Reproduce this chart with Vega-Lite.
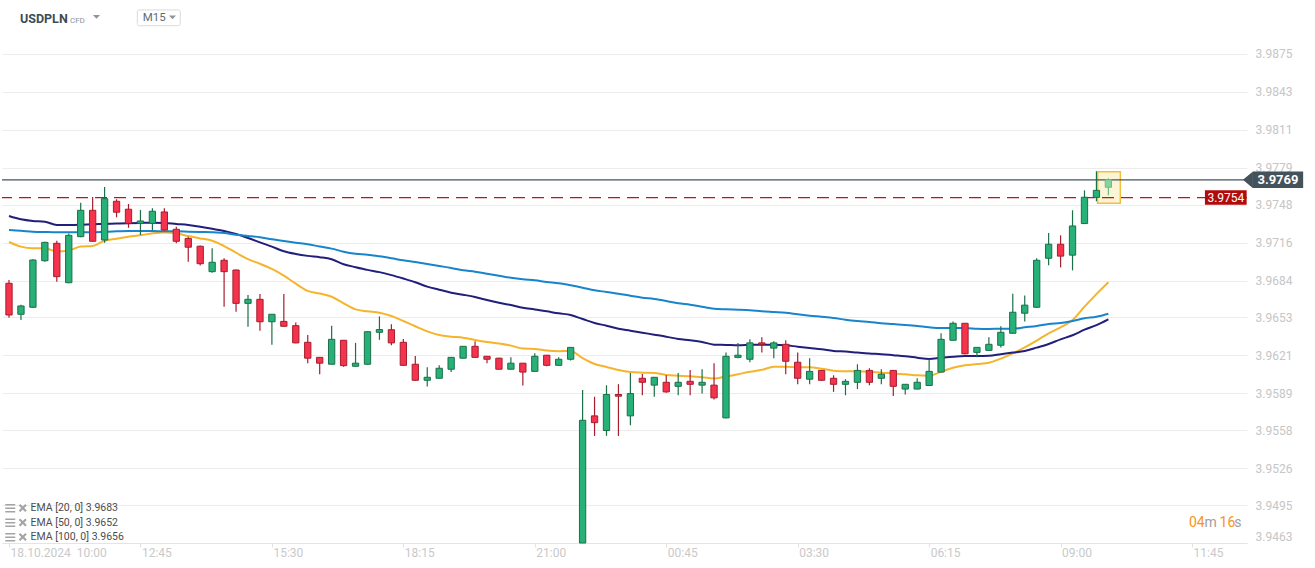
{
"$schema": "https://vega.github.io/schema/vega-lite/v6.json",
"width": 1245, "height": 513,
"autosize": {"type": "none"},
"padding": {"left": 2, "top": 30, "right": 68, "bottom": 25},
"background": "white",
"config": {"font": "Roboto", "view": {"stroke": null}},
"datasets": {
"c": [
{"i":0,"o":3.96818,"h":3.96846,"l":3.96528,"c":3.96551},
{"i":1,"o":3.96557,"h":3.96638,"l":3.96509,"c":3.96627},
{"i":2,"o":3.96616,"h":3.97020,"l":3.96610,"c":3.97014},
{"i":3,"o":3.97008,"h":3.97168,"l":3.97000,"c":3.97163},
{"i":4,"o":3.97155,"h":3.97177,"l":3.96831,"c":3.96874},
{"i":5,"o":3.96823,"h":3.97238,"l":3.96818,"c":3.97222},
{"i":6,"o":3.97211,"h":3.97497,"l":3.97205,"c":3.97433},
{"i":7,"o":3.97433,"h":3.97545,"l":3.97168,"c":3.97172},
{"i":8,"o":3.97183,"h":3.97629,"l":3.97160,"c":3.97531},
{"i":9,"o":3.97509,"h":3.97526,"l":3.97374,"c":3.97417},
{"i":10,"o":3.97442,"h":3.97486,"l":3.97286,"c":3.97323},
{"i":11,"o":3.97323,"h":3.97436,"l":3.97225,"c":3.97343},
{"i":12,"o":3.97323,"h":3.97450,"l":3.97267,"c":3.97425},
{"i":13,"o":3.97419,"h":3.97450,"l":3.97263,"c":3.97267},
{"i":14,"o":3.97273,"h":3.97294,"l":3.97155,"c":3.97172},
{"i":15,"o":3.97196,"h":3.97211,"l":3.97000,"c":3.97122},
{"i":16,"o":3.97130,"h":3.97136,"l":3.96967,"c":3.96983},
{"i":17,"o":3.96916,"h":3.97114,"l":3.96907,"c":3.96995},
{"i":18,"o":3.97012,"h":3.97029,"l":3.96621,"c":3.96916},
{"i":19,"o":3.96930,"h":3.96934,"l":3.96579,"c":3.96649},
{"i":20,"o":3.96649,"h":3.96719,"l":3.96452,"c":3.96683},
{"i":21,"o":3.96683,"h":3.96727,"l":3.96419,"c":3.96494},
{"i":22,"o":3.96494,"h":3.96560,"l":3.96301,"c":3.96557},
{"i":23,"o":3.96497,"h":3.96728,"l":3.96450,"c":3.96456},
{"i":24,"o":3.96461,"h":3.96488,"l":3.96312,"c":3.96316},
{"i":25,"o":3.96321,"h":3.96382,"l":3.96145,"c":3.96187},
{"i":26,"o":3.96194,"h":3.96197,"l":3.96052,"c":3.96145},
{"i":27,"o":3.96136,"h":3.96461,"l":3.96133,"c":3.96346},
{"i":28,"o":3.96338,"h":3.96340,"l":3.96115,"c":3.96124},
{"i":29,"o":3.96119,"h":3.96316,"l":3.96116,"c":3.96145},
{"i":30,"o":3.96136,"h":3.96413,"l":3.96133,"c":3.96410},
{"i":31,"o":3.96405,"h":3.96539,"l":3.96342,"c":3.96428},
{"i":32,"o":3.96427,"h":3.96472,"l":3.96296,"c":3.96316},
{"i":33,"o":3.96321,"h":3.96349,"l":3.96125,"c":3.96127},
{"i":34,"o":3.96136,"h":3.96205,"l":3.95998,"c":3.96001},
{"i":35,"o":3.96001,"h":3.96111,"l":3.95948,"c":3.96026},
{"i":36,"o":3.96018,"h":3.96127,"l":3.96016,"c":3.96102},
{"i":37,"o":3.96094,"h":3.96197,"l":3.96070,"c":3.96194},
{"i":38,"o":3.96187,"h":3.96290,"l":3.96184,"c":3.96287},
{"i":39,"o":3.96287,"h":3.96330,"l":3.96192,"c":3.96194},
{"i":40,"o":3.96203,"h":3.96205,"l":3.96145,"c":3.96178},
{"i":41,"o":3.96187,"h":3.96190,"l":3.96091,"c":3.96094},
{"i":42,"o":3.96094,"h":3.96194,"l":3.96091,"c":3.96145},
{"i":43,"o":3.96145,"h":3.96146,"l":3.95956,"c":3.96070},
{"i":44,"o":3.96076,"h":3.96228,"l":3.96074,"c":3.96203},
{"i":45,"o":3.96212,"h":3.96214,"l":3.96119,"c":3.96127},
{"i":46,"o":3.96127,"h":3.96194,"l":3.96125,"c":3.96178},
{"i":47,"o":3.96178,"h":3.96280,"l":3.96167,"c":3.96278},
{"i":48,"o":3.94630,"h":3.95919,"l":3.94630,"c":3.95664},
{"i":49,"o":3.95701,"h":3.95862,"l":3.95532,"c":3.95644},
{"i":50,"o":3.95578,"h":3.95959,"l":3.95533,"c":3.95881},
{"i":51,"o":3.95881,"h":3.95968,"l":3.95532,"c":3.95867},
{"i":52,"o":3.95701,"h":3.96062,"l":3.95621,"c":3.95889},
{"i":53,"o":3.96018,"h":3.96054,"l":3.95874,"c":3.95984},
{"i":54,"o":3.95960,"h":3.96029,"l":3.95862,"c":3.96026},
{"i":55,"o":3.95984,"h":3.96043,"l":3.95896,"c":3.95903},
{"i":56,"o":3.95950,"h":3.96062,"l":3.95874,"c":3.95984},
{"i":57,"o":3.95992,"h":3.96088,"l":3.95874,"c":3.95967},
{"i":58,"o":3.95960,"h":3.96094,"l":3.95889,"c":3.95984},
{"i":59,"o":3.95960,"h":3.96145,"l":3.95838,"c":3.95853},
{"i":60,"o":3.95684,"h":3.96236,"l":3.95682,"c":3.96203},
{"i":61,"o":3.96194,"h":3.96316,"l":3.96187,"c":3.96212},
{"i":62,"o":3.96178,"h":3.96346,"l":3.96153,"c":3.96316},
{"i":63,"o":3.96316,"h":3.96363,"l":3.96236,"c":3.96304},
{"i":64,"o":3.96272,"h":3.96330,"l":3.96187,"c":3.96316},
{"i":65,"o":3.96304,"h":3.96338,"l":3.96052,"c":3.96161},
{"i":66,"o":3.96153,"h":3.96236,"l":3.95967,"c":3.96018},
{"i":67,"o":3.96010,"h":3.96187,"l":3.95967,"c":3.96076},
{"i":68,"o":3.96084,"h":3.96088,"l":3.95998,"c":3.96001},
{"i":69,"o":3.96018,"h":3.96043,"l":3.95903,"c":3.95967},
{"i":70,"o":3.95967,"h":3.96010,"l":3.95875,"c":3.95992},
{"i":71,"o":3.95984,"h":3.96136,"l":3.95927,"c":3.96084},
{"i":72,"o":3.96084,"h":3.96102,"l":3.95960,"c":3.95984},
{"i":73,"o":3.96018,"h":3.96094,"l":3.95967,"c":3.96052},
{"i":74,"o":3.96084,"h":3.96088,"l":3.95869,"c":3.95950},
{"i":75,"o":3.95927,"h":3.95970,"l":3.95881,"c":3.95967},
{"i":76,"o":3.95927,"h":3.96018,"l":3.95925,"c":3.95984},
{"i":77,"o":3.95957,"h":3.96178,"l":3.95955,"c":3.96076},
{"i":78,"o":3.96070,"h":3.96397,"l":3.96068,"c":3.96346},
{"i":79,"o":3.96338,"h":3.96497,"l":3.96335,"c":3.96481},
{"i":80,"o":3.96481,"h":3.96483,"l":3.96220,"c":3.96224},
{"i":81,"o":3.96236,"h":3.96280,"l":3.96194,"c":3.96278},
{"i":82,"o":3.96253,"h":3.96363,"l":3.96251,"c":3.96304},
{"i":83,"o":3.96296,"h":3.96456,"l":3.96278,"c":3.96405},
{"i":84,"o":3.96397,"h":3.96730,"l":3.96394,"c":3.96574},
{"i":85,"o":3.96566,"h":3.96716,"l":3.96497,"c":3.96634},
{"i":86,"o":3.96616,"h":3.97029,"l":3.96613,"c":3.97012},
{"i":87,"o":3.97029,"h":3.97241,"l":3.96969,"c":3.97147},
{"i":88,"o":3.97147,"h":3.97222,"l":3.96952,"c":3.97047},
{"i":89,"o":3.97055,"h":3.97433,"l":3.96927,"c":3.97301},
{"i":90,"o":3.97321,"h":3.97601,"l":3.97318,"c":3.97543},
{"i":91,"o":3.97542,"h":3.97762,"l":3.97509,"c":3.97601},
{"i":92,"o":3.97627,"h":3.97703,"l":3.97559,"c":3.97690}
],
"e": [
{"s":"EMA [20, 0] 3.9683","i":0,"v":3.97166},{"s":"EMA [20, 0] 3.9683","i":1,"v":3.97127},{"s":"EMA [20, 0] 3.9683","i":2,"v":3.97114},{"s":"EMA [20, 0] 3.9683","i":3,"v":3.97114},{"s":"EMA [20, 0] 3.9683","i":4,"v":3.97085},{"s":"EMA [20, 0] 3.9683","i":5,"v":3.97094},{"s":"EMA [20, 0] 3.9683","i":6,"v":3.97127},{"s":"EMA [20, 0] 3.9683","i":7,"v":3.97132},{"s":"EMA [20, 0] 3.9683","i":8,"v":3.97177},{"s":"EMA [20, 0] 3.9683","i":9,"v":3.97194},
{"s":"EMA [20, 0] 3.9683","i":10,"v":3.97211},{"s":"EMA [20, 0] 3.9683","i":11,"v":3.97222},{"s":"EMA [20, 0] 3.9683","i":12,"v":3.97239},{"s":"EMA [20, 0] 3.9683","i":13,"v":3.97247},{"s":"EMA [20, 0] 3.9683","i":14,"v":3.97239},{"s":"EMA [20, 0] 3.9683","i":15,"v":3.97216},{"s":"EMA [20, 0] 3.9683","i":16,"v":3.97196},{"s":"EMA [20, 0] 3.9683","i":17,"v":3.97177},{"s":"EMA [20, 0] 3.9683","i":18,"v":3.97132},{"s":"EMA [20, 0] 3.9683","i":19,"v":3.97076},
{"s":"EMA [20, 0] 3.9683","i":20,"v":3.97021},{"s":"EMA [20, 0] 3.9683","i":21,"v":3.96983},{"s":"EMA [20, 0] 3.9683","i":22,"v":3.96939},{"s":"EMA [20, 0] 3.9683","i":23,"v":3.96882},{"s":"EMA [20, 0] 3.9683","i":24,"v":3.96815},{"s":"EMA [20, 0] 3.9683","i":25,"v":3.96754},{"s":"EMA [20, 0] 3.9683","i":26,"v":3.96732},{"s":"EMA [20, 0] 3.9683","i":27,"v":3.96705},{"s":"EMA [20, 0] 3.9683","i":28,"v":3.96649},{"s":"EMA [20, 0] 3.9683","i":29,"v":3.96598},
{"s":"EMA [20, 0] 3.9683","i":30,"v":3.96582},{"s":"EMA [20, 0] 3.9683","i":31,"v":3.96570},{"s":"EMA [20, 0] 3.9683","i":32,"v":3.96542},{"s":"EMA [20, 0] 3.9683","i":33,"v":3.96500},{"s":"EMA [20, 0] 3.9683","i":34,"v":3.96456},{"s":"EMA [20, 0] 3.9683","i":35,"v":3.96413},{"s":"EMA [20, 0] 3.9683","i":36,"v":3.96382},{"s":"EMA [20, 0] 3.9683","i":37,"v":3.96368},{"s":"EMA [20, 0] 3.9683","i":38,"v":3.96360},{"s":"EMA [20, 0] 3.9683","i":39,"v":3.96341},
{"s":"EMA [20, 0] 3.9683","i":40,"v":3.96324},{"s":"EMA [20, 0] 3.9683","i":41,"v":3.96310},{"s":"EMA [20, 0] 3.9683","i":42,"v":3.96293},{"s":"EMA [20, 0] 3.9683","i":43,"v":3.96268},{"s":"EMA [20, 0] 3.9683","i":44,"v":3.96265},{"s":"EMA [20, 0] 3.9683","i":45,"v":3.96251},{"s":"EMA [20, 0] 3.9683","i":46,"v":3.96246},{"s":"EMA [20, 0] 3.9683","i":47,"v":3.96248},{"s":"EMA [20, 0] 3.9683","i":48,"v":3.96187},{"s":"EMA [20, 0] 3.9683","i":49,"v":3.96138},
{"s":"EMA [20, 0] 3.9683","i":50,"v":3.96113},{"s":"EMA [20, 0] 3.9683","i":51,"v":3.96088},{"s":"EMA [20, 0] 3.9683","i":52,"v":3.96071},{"s":"EMA [20, 0] 3.9683","i":53,"v":3.96065},{"s":"EMA [20, 0] 3.9683","i":54,"v":3.96062},{"s":"EMA [20, 0] 3.9683","i":55,"v":3.96046},{"s":"EMA [20, 0] 3.9683","i":56,"v":3.96040},{"s":"EMA [20, 0] 3.9683","i":57,"v":3.96035},{"s":"EMA [20, 0] 3.9683","i":58,"v":3.96027},{"s":"EMA [20, 0] 3.9683","i":59,"v":3.96016},
{"s":"EMA [20, 0] 3.9683","i":60,"v":3.96033},{"s":"EMA [20, 0] 3.9683","i":61,"v":3.96052},{"s":"EMA [20, 0] 3.9683","i":62,"v":3.96073},{"s":"EMA [20, 0] 3.9683","i":63,"v":3.96089},{"s":"EMA [20, 0] 3.9683","i":64,"v":3.96115},{"s":"EMA [20, 0] 3.9683","i":65,"v":3.96115},{"s":"EMA [20, 0] 3.9683","i":66,"v":3.96110},{"s":"EMA [20, 0] 3.9683","i":67,"v":3.96110},{"s":"EMA [20, 0] 3.9683","i":68,"v":3.96098},{"s":"EMA [20, 0] 3.9683","i":69,"v":3.96082},
{"s":"EMA [20, 0] 3.9683","i":70,"v":3.96076},{"s":"EMA [20, 0] 3.9683","i":71,"v":3.96076},{"s":"EMA [20, 0] 3.9683","i":72,"v":3.96073},{"s":"EMA [20, 0] 3.9683","i":73,"v":3.96065},{"s":"EMA [20, 0] 3.9683","i":74,"v":3.96059},{"s":"EMA [20, 0] 3.9683","i":75,"v":3.96052},{"s":"EMA [20, 0] 3.9683","i":76,"v":3.96043},{"s":"EMA [20, 0] 3.9683","i":77,"v":3.96040},{"s":"EMA [20, 0] 3.9683","i":78,"v":3.96073},{"s":"EMA [20, 0] 3.9683","i":79,"v":3.96107},
{"s":"EMA [20, 0] 3.9683","i":80,"v":3.96127},{"s":"EMA [20, 0] 3.9683","i":81,"v":3.96138},{"s":"EMA [20, 0] 3.9683","i":82,"v":3.96149},{"s":"EMA [20, 0] 3.9683","i":83,"v":3.96183},{"s":"EMA [20, 0] 3.9683","i":84,"v":3.96228},{"s":"EMA [20, 0] 3.9683","i":85,"v":3.96278},{"s":"EMA [20, 0] 3.9683","i":86,"v":3.96335},{"s":"EMA [20, 0] 3.9683","i":87,"v":3.96397},{"s":"EMA [20, 0] 3.9683","i":88,"v":3.96447},{"s":"EMA [20, 0] 3.9683","i":89,"v":3.96509},
{"s":"EMA [20, 0] 3.9683","i":90,"v":3.96621},{"s":"EMA [20, 0] 3.9683","i":91,"v":3.96727},{"s":"EMA [20, 0] 3.9683","i":92,"v":3.96827},
{"s":"EMA [50, 0] 3.9652","i":0,"v":3.97385},{"s":"EMA [50, 0] 3.9652","i":1,"v":3.97357},{"s":"EMA [50, 0] 3.9652","i":2,"v":3.97343},{"s":"EMA [50, 0] 3.9652","i":3,"v":3.97337},{"s":"EMA [50, 0] 3.9652","i":4,"v":3.97310},{"s":"EMA [50, 0] 3.9652","i":5,"v":3.97310},{"s":"EMA [50, 0] 3.9652","i":6,"v":3.97312},{"s":"EMA [50, 0] 3.9652","i":7,"v":3.97316},{"s":"EMA [50, 0] 3.9652","i":8,"v":3.97318},{"s":"EMA [50, 0] 3.9652","i":9,"v":3.97321},
{"s":"EMA [50, 0] 3.9652","i":10,"v":3.97324},{"s":"EMA [50, 0] 3.9652","i":11,"v":3.97327},{"s":"EMA [50, 0] 3.9652","i":12,"v":3.97329},{"s":"EMA [50, 0] 3.9652","i":13,"v":3.97327},{"s":"EMA [50, 0] 3.9652","i":14,"v":3.97318},{"s":"EMA [50, 0] 3.9652","i":15,"v":3.97310},{"s":"EMA [50, 0] 3.9652","i":16,"v":3.97294},{"s":"EMA [50, 0] 3.9652","i":17,"v":3.97277},{"s":"EMA [50, 0] 3.9652","i":18,"v":3.97259},{"s":"EMA [50, 0] 3.9652","i":19,"v":3.97233},
{"s":"EMA [50, 0] 3.9652","i":20,"v":3.97200},{"s":"EMA [50, 0] 3.9652","i":21,"v":3.97163},{"s":"EMA [50, 0] 3.9652","i":22,"v":3.97127},{"s":"EMA [50, 0] 3.9652","i":23,"v":3.97088},{"s":"EMA [50, 0] 3.9652","i":24,"v":3.97065},{"s":"EMA [50, 0] 3.9652","i":25,"v":3.97049},{"s":"EMA [50, 0] 3.9652","i":26,"v":3.97038},{"s":"EMA [50, 0] 3.9652","i":27,"v":3.97021},{"s":"EMA [50, 0] 3.9652","i":28,"v":3.96979},{"s":"EMA [50, 0] 3.9652","i":29,"v":3.96954},
{"s":"EMA [50, 0] 3.9652","i":30,"v":3.96931},{"s":"EMA [50, 0] 3.9652","i":31,"v":3.96912},{"s":"EMA [50, 0] 3.9652","i":32,"v":3.96887},{"s":"EMA [50, 0] 3.9652","i":33,"v":3.96858},{"s":"EMA [50, 0] 3.9652","i":34,"v":3.96827},{"s":"EMA [50, 0] 3.9652","i":35,"v":3.96790},{"s":"EMA [50, 0] 3.9652","i":36,"v":3.96764},{"s":"EMA [50, 0] 3.9652","i":37,"v":3.96739},{"s":"EMA [50, 0] 3.9652","i":38,"v":3.96722},{"s":"EMA [50, 0] 3.9652","i":39,"v":3.96703},
{"s":"EMA [50, 0] 3.9652","i":40,"v":3.96677},{"s":"EMA [50, 0] 3.9652","i":41,"v":3.96654},{"s":"EMA [50, 0] 3.9652","i":42,"v":3.96635},{"s":"EMA [50, 0] 3.9652","i":43,"v":3.96612},{"s":"EMA [50, 0] 3.9652","i":44,"v":3.96598},{"s":"EMA [50, 0] 3.9652","i":45,"v":3.96582},{"s":"EMA [50, 0] 3.9652","i":46,"v":3.96565},{"s":"EMA [50, 0] 3.9652","i":47,"v":3.96551},{"s":"EMA [50, 0] 3.9652","i":48,"v":3.96517},{"s":"EMA [50, 0] 3.9652","i":49,"v":3.96483},
{"s":"EMA [50, 0] 3.9652","i":50,"v":3.96461},{"s":"EMA [50, 0] 3.9652","i":51,"v":3.96435},{"s":"EMA [50, 0] 3.9652","i":52,"v":3.96419},{"s":"EMA [50, 0] 3.9652","i":53,"v":3.96402},{"s":"EMA [50, 0] 3.9652","i":54,"v":3.96385},{"s":"EMA [50, 0] 3.9652","i":55,"v":3.96368},{"s":"EMA [50, 0] 3.9652","i":56,"v":3.96349},{"s":"EMA [50, 0] 3.9652","i":57,"v":3.96338},{"s":"EMA [50, 0] 3.9652","i":58,"v":3.96324},{"s":"EMA [50, 0] 3.9652","i":59,"v":3.96301},
{"s":"EMA [50, 0] 3.9652","i":60,"v":3.96299},{"s":"EMA [50, 0] 3.9652","i":61,"v":3.96296},{"s":"EMA [50, 0] 3.9652","i":62,"v":3.96299},{"s":"EMA [50, 0] 3.9652","i":63,"v":3.96301},{"s":"EMA [50, 0] 3.9652","i":64,"v":3.96301},{"s":"EMA [50, 0] 3.9652","i":65,"v":3.96296},{"s":"EMA [50, 0] 3.9652","i":66,"v":3.96284},{"s":"EMA [50, 0] 3.9652","i":67,"v":3.96273},{"s":"EMA [50, 0] 3.9652","i":68,"v":3.96263},{"s":"EMA [50, 0] 3.9652","i":69,"v":3.96248},
{"s":"EMA [50, 0] 3.9652","i":70,"v":3.96243},{"s":"EMA [50, 0] 3.9652","i":71,"v":3.96234},{"s":"EMA [50, 0] 3.9652","i":72,"v":3.96226},{"s":"EMA [50, 0] 3.9652","i":73,"v":3.96221},{"s":"EMA [50, 0] 3.9652","i":74,"v":3.96212},{"s":"EMA [50, 0] 3.9652","i":75,"v":3.96203},{"s":"EMA [50, 0] 3.9652","i":76,"v":3.96191},{"s":"EMA [50, 0] 3.9652","i":77,"v":3.96180},{"s":"EMA [50, 0] 3.9652","i":78,"v":3.96191},{"s":"EMA [50, 0] 3.9652","i":79,"v":3.96199},
{"s":"EMA [50, 0] 3.9652","i":80,"v":3.96205},{"s":"EMA [50, 0] 3.9652","i":81,"v":3.96205},{"s":"EMA [50, 0] 3.9652","i":82,"v":3.96208},{"s":"EMA [50, 0] 3.9652","i":83,"v":3.96221},{"s":"EMA [50, 0] 3.9652","i":84,"v":3.96234},{"s":"EMA [50, 0] 3.9652","i":85,"v":3.96248},{"s":"EMA [50, 0] 3.9652","i":86,"v":3.96276},{"s":"EMA [50, 0] 3.9652","i":87,"v":3.96307},{"s":"EMA [50, 0] 3.9652","i":88,"v":3.96346},{"s":"EMA [50, 0] 3.9652","i":89,"v":3.96380},
{"s":"EMA [50, 0] 3.9652","i":90,"v":3.96427},{"s":"EMA [50, 0] 3.9652","i":91,"v":3.96466},{"s":"EMA [50, 0] 3.9652","i":92,"v":3.96515},
{"s":"EMA [100, 0] 3.9656","i":0,"v":3.97267},{"s":"EMA [100, 0] 3.9656","i":1,"v":3.97261},{"s":"EMA [100, 0] 3.9656","i":2,"v":3.97253},{"s":"EMA [100, 0] 3.9656","i":3,"v":3.97250},{"s":"EMA [100, 0] 3.9656","i":4,"v":3.97248},{"s":"EMA [100, 0] 3.9656","i":5,"v":3.97248},{"s":"EMA [100, 0] 3.9656","i":6,"v":3.97248},{"s":"EMA [100, 0] 3.9656","i":7,"v":3.97248},{"s":"EMA [100, 0] 3.9656","i":8,"v":3.97253},{"s":"EMA [100, 0] 3.9656","i":9,"v":3.97256},
{"s":"EMA [100, 0] 3.9656","i":10,"v":3.97259},{"s":"EMA [100, 0] 3.9656","i":11,"v":3.97259},{"s":"EMA [100, 0] 3.9656","i":12,"v":3.97259},{"s":"EMA [100, 0] 3.9656","i":13,"v":3.97256},{"s":"EMA [100, 0] 3.9656","i":14,"v":3.97256},{"s":"EMA [100, 0] 3.9656","i":15,"v":3.97253},{"s":"EMA [100, 0] 3.9656","i":16,"v":3.97250},{"s":"EMA [100, 0] 3.9656","i":17,"v":3.97248},{"s":"EMA [100, 0] 3.9656","i":18,"v":3.97242},{"s":"EMA [100, 0] 3.9656","i":19,"v":3.97227},
{"s":"EMA [100, 0] 3.9656","i":20,"v":3.97217},{"s":"EMA [100, 0] 3.9656","i":21,"v":3.97206},{"s":"EMA [100, 0] 3.9656","i":22,"v":3.97189},{"s":"EMA [100, 0] 3.9656","i":23,"v":3.97174},{"s":"EMA [100, 0] 3.9656","i":24,"v":3.97160},{"s":"EMA [100, 0] 3.9656","i":25,"v":3.97147},{"s":"EMA [100, 0] 3.9656","i":26,"v":3.97128},{"s":"EMA [100, 0] 3.9656","i":27,"v":3.97110},{"s":"EMA [100, 0] 3.9656","i":28,"v":3.97084},{"s":"EMA [100, 0] 3.9656","i":29,"v":3.97067},
{"s":"EMA [100, 0] 3.9656","i":30,"v":3.97059},{"s":"EMA [100, 0] 3.9656","i":31,"v":3.97045},{"s":"EMA [100, 0] 3.9656","i":32,"v":3.97029},{"s":"EMA [100, 0] 3.9656","i":33,"v":3.97012},{"s":"EMA [100, 0] 3.9656","i":34,"v":3.96997},{"s":"EMA [100, 0] 3.9656","i":35,"v":3.96981},{"s":"EMA [100, 0] 3.9656","i":36,"v":3.96964},{"s":"EMA [100, 0] 3.9656","i":37,"v":3.96947},{"s":"EMA [100, 0] 3.9656","i":38,"v":3.96927},{"s":"EMA [100, 0] 3.9656","i":39,"v":3.96916},
{"s":"EMA [100, 0] 3.9656","i":40,"v":3.96899},{"s":"EMA [100, 0] 3.9656","i":41,"v":3.96882},{"s":"EMA [100, 0] 3.9656","i":42,"v":3.96865},{"s":"EMA [100, 0] 3.9656","i":43,"v":3.96852},{"s":"EMA [100, 0] 3.9656","i":44,"v":3.96843},{"s":"EMA [100, 0] 3.9656","i":45,"v":3.96829},{"s":"EMA [100, 0] 3.9656","i":46,"v":3.96818},{"s":"EMA [100, 0] 3.9656","i":47,"v":3.96801},{"s":"EMA [100, 0] 3.9656","i":48,"v":3.96781},{"s":"EMA [100, 0] 3.9656","i":49,"v":3.96759},
{"s":"EMA [100, 0] 3.9656","i":50,"v":3.96745},{"s":"EMA [100, 0] 3.9656","i":51,"v":3.96730},{"s":"EMA [100, 0] 3.9656","i":52,"v":3.96713},{"s":"EMA [100, 0] 3.9656","i":53,"v":3.96697},{"s":"EMA [100, 0] 3.9656","i":54,"v":3.96686},{"s":"EMA [100, 0] 3.9656","i":55,"v":3.96669},{"s":"EMA [100, 0] 3.9656","i":56,"v":3.96649},{"s":"EMA [100, 0] 3.9656","i":57,"v":3.96638},{"s":"EMA [100, 0] 3.9656","i":58,"v":3.96621},{"s":"EMA [100, 0] 3.9656","i":59,"v":3.96604},
{"s":"EMA [100, 0] 3.9656","i":60,"v":3.96599},{"s":"EMA [100, 0] 3.9656","i":61,"v":3.96595},{"s":"EMA [100, 0] 3.9656","i":62,"v":3.96590},{"s":"EMA [100, 0] 3.9656","i":63,"v":3.96582},{"s":"EMA [100, 0] 3.9656","i":64,"v":3.96576},{"s":"EMA [100, 0] 3.9656","i":65,"v":3.96570},{"s":"EMA [100, 0] 3.9656","i":66,"v":3.96557},{"s":"EMA [100, 0] 3.9656","i":67,"v":3.96545},{"s":"EMA [100, 0] 3.9656","i":68,"v":3.96536},{"s":"EMA [100, 0] 3.9656","i":69,"v":3.96526},
{"s":"EMA [100, 0] 3.9656","i":70,"v":3.96511},{"s":"EMA [100, 0] 3.9656","i":71,"v":3.96500},{"s":"EMA [100, 0] 3.9656","i":72,"v":3.96492},{"s":"EMA [100, 0] 3.9656","i":73,"v":3.96481},{"s":"EMA [100, 0] 3.9656","i":74,"v":3.96475},{"s":"EMA [100, 0] 3.9656","i":75,"v":3.96467},{"s":"EMA [100, 0] 3.9656","i":76,"v":3.96458},{"s":"EMA [100, 0] 3.9656","i":77,"v":3.96447},{"s":"EMA [100, 0] 3.9656","i":78,"v":3.96441},{"s":"EMA [100, 0] 3.9656","i":79,"v":3.96441},
{"s":"EMA [100, 0] 3.9656","i":80,"v":3.96441},{"s":"EMA [100, 0] 3.9656","i":81,"v":3.96435},{"s":"EMA [100, 0] 3.9656","i":82,"v":3.96433},{"s":"EMA [100, 0] 3.9656","i":83,"v":3.96435},{"s":"EMA [100, 0] 3.9656","i":84,"v":3.96435},{"s":"EMA [100, 0] 3.9656","i":85,"v":3.96447},{"s":"EMA [100, 0] 3.9656","i":86,"v":3.96458},{"s":"EMA [100, 0] 3.9656","i":87,"v":3.96475},{"s":"EMA [100, 0] 3.9656","i":88,"v":3.96483},{"s":"EMA [100, 0] 3.9656","i":89,"v":3.96500},
{"s":"EMA [100, 0] 3.9656","i":90,"v":3.96523},{"s":"EMA [100, 0] 3.9656","i":91,"v":3.96536},{"s":"EMA [100, 0] 3.9656","i":92,"v":3.96562}
]
},
"layer": [
{"data": {"values": [{}]},
 "mark": {"type": "rect", "fill": "#fcf5d5", "stroke": "#f2c03c", "strokeWidth": 1.5},
 "encoding": {"x": {"datum": 91.1, "type": "quantitative", "title": null}, "x2": {"datum": 93.0}, "y": {"datum": 3.97758, "type": "quantitative", "title": null}, "y2": {"datum": 3.97492}}},
{"data": {"values": [{}]},
 "mark": {"type": "rule", "stroke": "#c2121c", "strokeWidth": 1.2, "strokeDash": [12, 7]},
 "encoding": {"y": {"datum": 3.9754, "type": "quantitative", "title": null}}},
{"data": {"values": [{}]},
 "mark": {"type": "rule", "stroke": "#45535c", "strokeWidth": 1.2},
 "encoding": {"y": {"datum": 3.9769, "type": "quantitative", "title": null}}},
{"data": {"name": "e"},
 "mark": {"type": "line", "strokeWidth": 2, "interpolate": "monotone"},
 "encoding": {
  "x": {"field": "i", "type": "quantitative", "title": null,
        "scale": {"domain": [-0.586, 103.6], "nice": false, "zero": false, "padding": 0},
        "axis": {"values": [0, 11, 22, 33, 44, 55, 66, 77, 88, 99], "tickCount": 40,
                 "labelExpr": "['18.10.2024\u00a0\u00a010:00','12:45','15:30','18:15','21:00','00:45','03:30','06:15','09:00','11:45'][round(datum.value/11)]",
                 "grid": false, "labelAlign": "left", "labelOffset": 1, "labelBaseline": "top", "labelPadding": 0,
                 "labelColor": "#c9c9c9", "labelFontSize": 12, "labelFont": "Roboto", "tickSize": 4, "tickColor": "#e2e2e2",
                 "domainColor": "#e2e4e6", "labelOverlap": false, "labelFlush": false}},
  "y": {"field": "v", "type": "quantitative", "title": null,
        "scale": {"domain": [3.9463, 3.98952], "nice": false, "zero": false, "padding": 0},
        "axis": {"orient": "right", "values": [3.9463, 3.9495, 3.9526, 3.9558, 3.9589, 3.9621, 3.9653, 3.9684, 3.9716, 3.9748, 3.9779, 3.9811, 3.9843, 3.9875], "tickCount": 40,
                 "format": ".4f", "grid": true, "gridColor": "#ececec", "ticks": false, "domain": false, "labelOverlap": false,
                 "labelColor": "#c6c6c6", "labelFontSize": 12, "labelFont": "Roboto", "labelPadding": 8,
                 "labelBaseline": {"condition": {"test": "datum.value < 3.947", "value": "bottom"}, "value": "middle"}}},
  "color": {"field": "s", "type": "nominal",
            "scale": {"domain": ["EMA [20, 0] 3.9683", "EMA [50, 0] 3.9652", "EMA [100, 0] 3.9656"], "range": ["#f6b42c", "#201f7b", "#1784cb"]},
            "legend": {"orient": "none", "legendX": 3, "legendY": 473, "title": null,
                       "symbolType": "M-1,-0.85H1V-0.55H-1Z M-1,-0.15H1V0.15H-1Z M-1,0.55H1V0.85H-1Z M1.7,-0.55L2,-0.85L2.5,-0.35L3,-0.85L3.3,-0.55L2.8,-0.05L3.3,0.45L3,0.75L2.5,0.25L2,0.75L1.7,0.45L2.2,-0.05Z",
                       "symbolSize": 100, "symbolStrokeWidth": 0, "labelFontSize": 10.5, "labelFont": "Roboto", "labelColor": "#4d4d4d",
                       "labelOffset": 15, "rowPadding": 3.5, "padding": 0,
                       "encode": {"symbols": {"update": {"fill": {"value": "#a4a4a4"}, "stroke": {"value": "#a4a4a4"}, "strokeWidth": {"value": 0}, "opacity": {"value": 1}}}}}}
 }},
{"data": {"name": "c"},
 "mark": {"type": "rule", "strokeWidth": 1.2},
 "encoding": {
  "x": {"field": "i", "type": "quantitative", "title": null},
  "y": {"field": "l", "type": "quantitative", "title": null},
  "y2": {"field": "h"},
  "color": {"condition": [{"test": "datum.i == 92", "value": "#6dbb88"}, {"test": "datum.c >= datum.o", "value": "#1b7048"}], "value": "#a61d2e"}
 }},
{"data": {"name": "c"},
 "mark": {"type": "bar", "size": 6.3, "strokeWidth": 1},
 "encoding": {
  "x": {"field": "i", "type": "quantitative", "title": null},
  "y": {"field": "o", "type": "quantitative", "title": null},
  "y2": {"field": "c"},
  "fill": {"condition": [{"test": "datum.i == 92", "value": "#86d3a0"}, {"test": "datum.c >= datum.o", "value": "#27b077"}], "value": "#f5334d"},
  "stroke": {"condition": [{"test": "datum.i == 92", "value": "#6dbb88"}, {"test": "datum.c >= datum.o", "value": "#1b7048"}], "value": "#a61d2e"}
 }},
{"data": {"values": [{}]},
 "mark": {"type": "rect", "fill": "#b20a0a"},
 "encoding": {"x": {"datum": 100.08, "type": "quantitative", "title": null}, "x2": {"datum": 103.57}, "y": {"datum": 3.97601, "type": "quantitative", "title": null}, "y2": {"datum": 3.97479}}},
{"data": {"values": [{}]},
 "mark": {"type": "text", "text": "3.9754", "color": "#ffffff", "fontSize": 12, "font": "Roboto", "align": "center", "baseline": "middle"},
 "encoding": {"x": {"datum": 101.83, "type": "quantitative", "title": null}, "y": {"datum": 3.9754, "type": "quantitative", "title": null}}},
{"data": {"values": [{}]},
 "mark": {"type": "rect", "fill": "#44525c"},
 "encoding": {"x": {"datum": 104.1, "type": "quantitative", "title": null}, "x2": {"datum": 108.3}, "y": {"datum": 3.9776, "type": "quantitative", "title": null}, "y2": {"datum": 3.9762}}},
{"data": {"values": [{}]},
 "mark": {"type": "point", "shape": "M-0.6,0L0.6,-1L0.6,1Z", "size": 279, "filled": true, "fill": "#44525c", "opacity": 1, "strokeWidth": 0},
 "encoding": {"x": {"datum": 103.68, "type": "quantitative", "title": null}, "y": {"datum": 3.9769, "type": "quantitative", "title": null}}},
{"data": {"values": [{}]},
 "mark": {"type": "text", "text": "3.9769", "color": "#ffffff", "fontSize": 13, "fontWeight": "bold", "font": "Roboto", "align": "center", "baseline": "middle"},
 "encoding": {"x": {"datum": 106.19, "type": "quantitative", "title": null}, "y": {"datum": 3.9769, "type": "quantitative", "title": null}}},
{"data": {"values": [{}]},
 "mark": {"type": "text", "text": "USDPLN", "color": "#3d4b55", "fontSize": 12.5, "fontWeight": "bold", "font": "Roboto", "align": "left", "baseline": "alphabetic"},
 "encoding": {"x": {"datum": 0.92, "type": "quantitative", "title": null}, "y": {"datum": 3.99011, "type": "quantitative", "title": null}}},
{"data": {"values": [{}]},
 "mark": {"type": "text", "text": "CFD", "color": "#8c959c", "fontSize": 8, "font": "Roboto", "align": "left", "baseline": "alphabetic"},
 "encoding": {"x": {"datum": 5.1, "type": "quantitative", "title": null}, "y": {"datum": 3.99011, "type": "quantitative", "title": null}}},
{"data": {"values": [{}]},
 "mark": {"type": "point", "shape": "M-1,-0.55L1,-0.55L0,0.55Z", "size": 49, "filled": true, "fill": "#8c959c", "opacity": 1, "strokeWidth": 0},
 "encoding": {"x": {"datum": 7.32, "type": "quantitative", "title": null}, "y": {"datum": 3.99062, "type": "quantitative", "title": null}}},
{"data": {"values": [{}]},
 "mark": {"type": "rect", "fill": "#ffffff", "stroke": "#dadada", "strokeWidth": 1, "cornerRadius": 2},
 "encoding": {"x": {"datum": 10.74, "type": "quantitative", "title": null}, "x2": {"datum": 14.33}, "y": {"datum": 3.99121, "type": "quantitative", "title": null}, "y2": {"datum": 3.98988}}},
{"data": {"values": [{}]},
 "mark": {"type": "text", "text": "M15", "color": "#5f6b73", "fontSize": 11.5, "font": "Roboto", "align": "left", "baseline": "middle"},
 "encoding": {"x": {"datum": 11.19, "type": "quantitative", "title": null}, "y": {"datum": 3.99053, "type": "quantitative", "title": null}}},
{"data": {"values": [{}]},
 "mark": {"type": "point", "shape": "M-1,-0.55L1,-0.55L0,0.55Z", "size": 49, "filled": true, "fill": "#8c959c", "opacity": 1, "strokeWidth": 0},
 "encoding": {"x": {"datum": 13.68, "type": "quantitative", "title": null}, "y": {"datum": 3.99058, "type": "quantitative", "title": null}}},
{"data": {"values": [{}]},
 "mark": {"type": "text", "text": "04", "color": "#f7941d", "fontSize": 14, "font": "Roboto", "align": "left", "baseline": "middle"},
 "encoding": {"x": {"datum": 98.74, "type": "quantitative", "title": null}, "y": {"datum": 3.94798, "type": "quantitative", "title": null}}},
{"data": {"values": [{}]},
 "mark": {"type": "text", "text": "m", "color": "#a0a0a0", "fontSize": 14, "font": "Roboto", "align": "left", "baseline": "middle"},
 "encoding": {"x": {"datum": 100.04, "type": "quantitative", "title": null}, "y": {"datum": 3.94798, "type": "quantitative", "title": null}}},
{"data": {"values": [{}]},
 "mark": {"type": "text", "text": "16", "color": "#f7941d", "fontSize": 14, "font": "Roboto", "align": "left", "baseline": "middle"},
 "encoding": {"x": {"datum": 101.3, "type": "quantitative", "title": null}, "y": {"datum": 3.94798, "type": "quantitative", "title": null}}},
{"data": {"values": [{}]},
 "mark": {"type": "text", "text": "s", "color": "#a0a0a0", "fontSize": 14, "font": "Roboto", "align": "left", "baseline": "middle"},
 "encoding": {"x": {"datum": 102.53, "type": "quantitative", "title": null}, "y": {"datum": 3.94798, "type": "quantitative", "title": null}}}
]
}
